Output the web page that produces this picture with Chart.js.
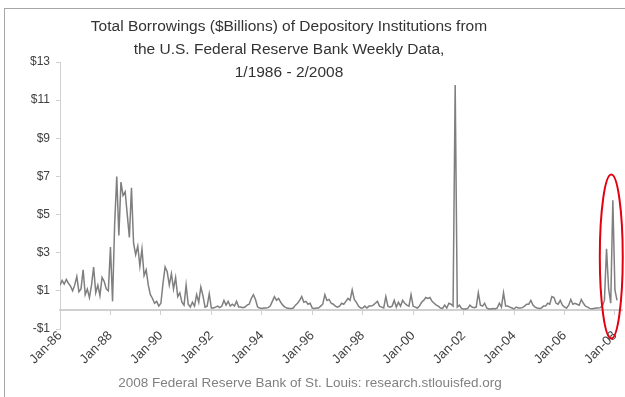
<!DOCTYPE html>
<html>
<head>
<meta charset="utf-8">
<script src="https://cdn.jsdelivr.net/npm/chart.js@4/dist/chart.umd.min.js"></script>
<style>
  html, body { margin: 0; padding: 0; background: #fff; }
  #wrap { position: relative; width: 625px; height: 397px; overflow: hidden; font-family: 'Liberation Sans', Arial, sans-serif; }
  #frame { position: absolute; left: 4px; top: 8px; width: 700px; height: 500px; border-top: 1px solid #a6a6a6; border-left: 1px solid #a6a6a6; }
  #title { position: absolute; left: 0; top: 14px; width: 578px; text-align: center; font-size: 15.5px; line-height: 23px; color: #333; }
  #source { position: absolute; left: 0; top: 375px; width: 620px; text-align: center; font-size: 13.5px; color: #808080; }
  canvas { position: absolute; left: 0; top: 0; }
</style>
</head>
<body>
<div id="wrap">
  <div id="frame"></div>
  <canvas id="borrowChart" width="625" height="397"></canvas>
  <div id="title">Total Borrowings ($Billions) of Depository Institutions from<br>the U.S. Federal Reserve Bank Weekly Data,<br>1/1986 - 2/2008</div>
  <div id="source">2008 Federal Reserve Bank of St. Louis: research.stlouisfed.org</div>
</div>
<script>
// monthly total borrowings, $ billions, Jan 1986 .. Feb 2008
const startYear = 1986;
const borrowings = [
  1.3, 1.55, 1.35, 1.6, 1.4, 1.25, 1.0, 1.3, 1.75, 0.95, 1.1, 2.1,     // 1986
  0.8, 1.1, 0.65, 1.3, 2.25, 0.9, 1.3, 0.75, 1.7, 1.5, 1.1, 1.0,       // 1987
  3.3, 0.45, 4.5, 7.0, 3.9, 6.7, 6.0, 6.2, 5.0, 3.8, 6.4, 3.5,         // 1988
  2.9, 3.35, 2.3, 3.2, 1.8, 2.1, 1.3, 0.8, 0.6, 0.35, 0.45, 0.2,       // 1989
  0.35, 1.4, 2.25, 2.0, 1.3, 1.9, 1.1, 1.7, 0.7, 0.9, 0.4, 0.25,       // 1990
  1.3, 0.3, 0.15, 0.4, 0.2, 0.8, 0.4, 1.2, 0.75, 0.15, 0.2, 0.85,      // 1991
  0.1, 0.1, 0.15, 0.2, 0.12, 0.2, 0.5, 0.25, 0.45, 0.2, 0.3, 0.2,      // 1992
  0.45, 0.15, 0.15, 0.12, 0.15, 0.25, 0.3, 0.6, 0.8, 0.55, 0.15, 0.1,  // 1993
  0.08, 0.1, 0.1, 0.12, 0.2, 0.45, 0.7, 0.5, 0.6, 0.4, 0.25, 0.15,     // 1994
  0.1, 0.07, 0.08, 0.1, 0.25, 0.35, 0.5, 0.7, 0.4, 0.45, 0.3, 0.35,    // 1995
  0.1, 0.08, 0.1, 0.1, 0.2, 0.3, 0.8, 0.5, 0.55, 0.35, 0.3, 0.2,       // 1996
  0.15, 0.2, 0.35, 0.3, 0.45, 0.6, 0.5, 1.05, 0.55, 0.4, 0.2, 0.1,     // 1997
  0.1, 0.2, 0.1, 0.2, 0.2, 0.25, 0.35, 0.45, 0.2, 0.15, 0.1, 0.7,      // 1998
  0.2, 0.15, 0.2, 0.5, 0.15, 0.4, 0.2, 0.5, 0.35, 0.25, 0.2, 0.8,      // 1999
  0.2, 0.15, 0.1, 0.2, 0.4, 0.5, 0.65, 0.6, 0.65, 0.45, 0.35, 0.25,    // 2000
  0.2, 0.1, 0.08, 0.25, 0.1, 0.35, 0.3, 0.2, 11.8, 0.15, 0.25, 0.08,   // 2001
  0.05, 0.05, 0.08, 0.25, 0.15, 0.12, 0.15, 0.9, 0.25, 0.2, 0.35, 0.1, // 2002
  0.05, 0.05, 0.08, 0.05, 0.1, 0.35, 0.15, 0.9, 0.2, 0.2, 0.15, 0.1,   // 2003
  0.05, 0.15, 0.1, 0.1, 0.12, 0.2, 0.3, 0.3, 0.5, 0.25, 0.15, 0.1,     // 2004
  0.08, 0.1, 0.2, 0.2, 0.35, 0.3, 0.7, 0.65, 0.35, 0.3, 0.5, 0.25,     // 2005
  0.15, 0.1, 0.25, 0.55, 0.3, 0.35, 0.3, 0.25, 0.55, 0.35, 0.2, 0.15,  // 2006
  0.08, 0.06, 0.08, 0.1, 0.1, 0.12, 0.2, 0.5, 3.2, 1.1, 0.35, 5.75,    // 2007
  1.05, 0.5                                                            // 2008
];

const yearTicks = [1986, 1988, 1990, 1992, 1994, 1996, 1998, 2000, 2002, 2004, 2006, 2008];
const valueTicks = [-1, 1, 3, 5, 7, 9, 11, 13];

// red ring around the late-2007 surge, in data units
const highlight = { from: 2007.4, to: 2008.31, low: -1.5, high: 7.1 };

const xMin = 1986;
const xMax = 2008.28;
const axisGrey = '#d0d0d0';
const textGrey = '#404040';
const family = "'Liberation Sans', Arial, sans-serif";

const points = borrowings.map((v, i) => ({ x: startYear + i / 12, y: v }));

const setYearTicks = (scale) => {
  scale.ticks = yearTicks.map(v => ({ value: v }));
};

const ringPlugin = {
  id: 'ring',
  afterDatasetsDraw(chart) {
    const { ctx, scales } = chart;
    const x1 = scales.x.getPixelForValue(highlight.from);
    const x2 = scales.x.getPixelForValue(highlight.to);
    const y1 = scales.y.getPixelForValue(highlight.high);
    const y2 = scales.y.getPixelForValue(highlight.low);
    ctx.save();
    ctx.beginPath();
    ctx.ellipse((x1 + x2) / 2, (y1 + y2) / 2, (x2 - x1) / 2, (y2 - y1) / 2, 0, 0, Math.PI * 2);
    ctx.strokeStyle = '#e3000f';
    ctx.lineWidth = 2;
    ctx.stroke();
    ctx.restore();
  }
};

new Chart(document.getElementById('borrowChart'), {
  type: 'line',
  data: {
    datasets: [{
      label: 'Total Borrowings',
      data: points,
      borderColor: '#7f7f7f',
      borderWidth: 1.5,
      pointRadius: 0,
      tension: 0,
      xAxisID: 'x',
      yAxisID: 'y'
    }]
  },
  options: {
    responsive: false,
    animation: false,
    layout: { padding: { top: 62, right: 3, bottom: 0, left: 0 } },
    plugins: { legend: { display: false }, tooltip: { enabled: false } },
    scales: {
      x: {
        type: 'linear',
        position: 'bottom',
        min: xMin,
        max: xMax,
        afterBuildTicks: setYearTicks,
        afterFit: (s) => { s.height = 68; },
        grid: { display: false },
        border: { display: false },
        ticks: {
          minRotation: 45,
          maxRotation: 45,
          padding: -9,
          color: textGrey,
          font: { family: family, size: 13 },
          callback: (v) => 'Jan-' + String(v).slice(2)
        }
      },
      zero: {
        type: 'linear',
        axis: 'x',
        position: { y: 0 },
        min: xMin,
        max: xMax,
        afterBuildTicks: setYearTicks,
        grid: { drawOnChartArea: false, tickLength: 4, tickColor: axisGrey },
        border: { color: axisGrey, width: 2 },
        ticks: { display: false }
      },
      y: {
        type: 'linear',
        min: -1,
        max: 13,
        afterBuildTicks: (s) => { s.ticks = valueTicks.map(v => ({ value: v })); },
        afterFit: (s) => { s.width = 60; },
        grid: { drawOnChartArea: false, tickLength: 4, tickColor: axisGrey },
        border: { color: axisGrey, width: 1 },
        ticks: {
          padding: 6,
          color: textGrey,
          font: { family: family, size: 12 },
          callback: (v) => (v < 0 ? '-$' : '$') + Math.abs(v)
        }
      }
    }
  },
  plugins: [ringPlugin]
});
</script>
</body>
</html>
